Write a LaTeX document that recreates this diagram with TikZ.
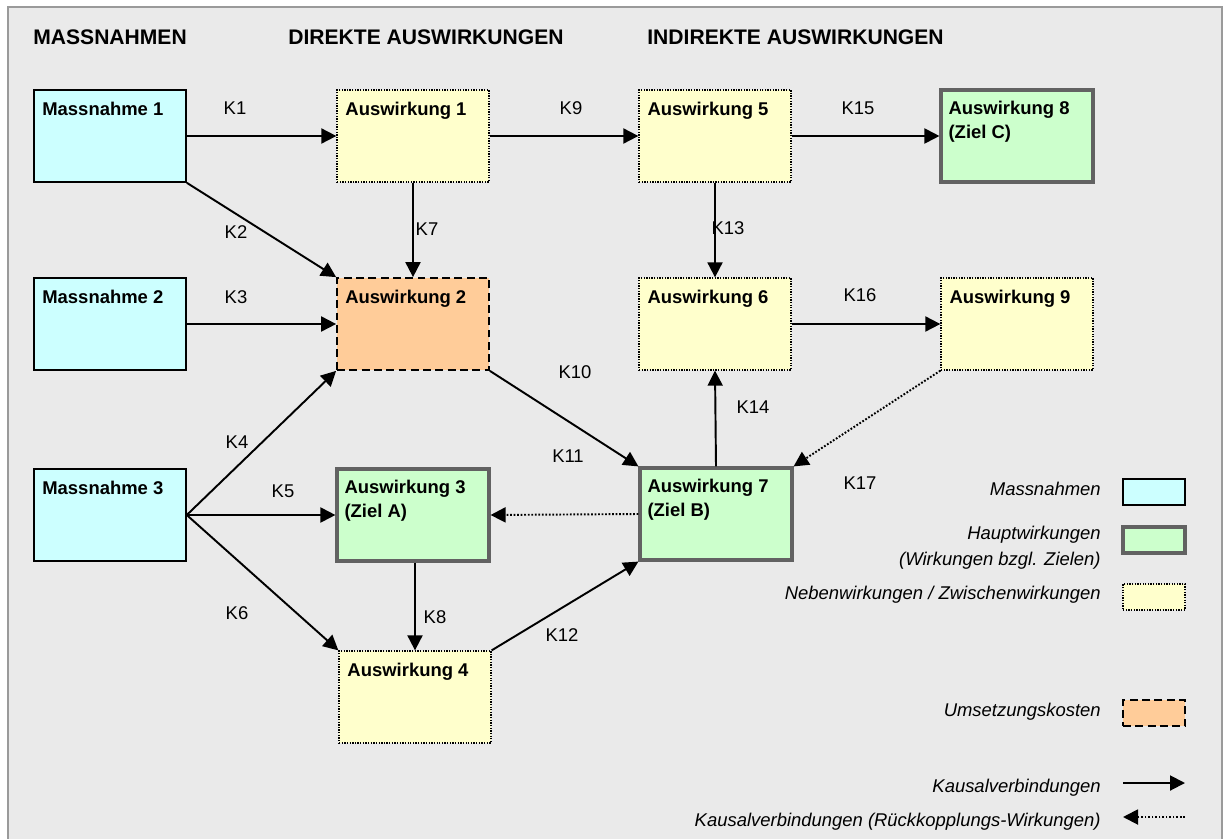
\documentclass[tikz,border=0pt]{standalone}
\usepackage{fontspec}
\setmainfont{Liberation Sans}
\usetikzlibrary{arrows.meta}

\definecolor{massfill}{HTML}{CCFFFF}
\definecolor{hauptfill}{HTML}{CCFFCC}
\definecolor{nebenfill}{HTML}{FFFFCC}
\definecolor{kostenfill}{HTML}{FFCC99}
\definecolor{hauptdraw}{HTML}{626262}
\definecolor{bgfill}{HTML}{EAEAEA}
\definecolor{framedraw}{HTML}{9A9A9A}

\begin{document}
\begin{tikzpicture}[x=0.02cm,y=-0.02cm,
    font=\fontsize{10.5}{13.6}\selectfont,
    box/.style={minimum width=3.04cm,minimum height=1.84cm,inner sep=0pt},
    legbox/.style={minimum width=1.24cm,minimum height=0.52cm},
    massbox/.style={box,draw=black,line width=0.9pt,fill=massfill},
    hauptbox/.style={box,draw=hauptdraw,line width=1.8pt,fill=hauptfill},
    nebenbox/.style={box,draw=black,line width=0.75pt,dash pattern=on 0.75pt off 0.75pt,fill=nebenfill},
    kostenbox/.style={box,draw=black,line width=1pt,dash pattern=on 4.5pt off 2.5pt,fill=kostenfill},
    boxtext/.style={anchor=north west,inner xsep=5pt,inner ysep=7pt,align=left,font=\fontsize{10.5}{13.6}\selectfont\bfseries},
    head/.style={anchor=west,inner sep=0pt,font=\fontsize{12}{14}\selectfont\bfseries},
    legtext/.style={anchor=base east,inner sep=0pt,align=right,font=\fontsize{10.5}{14.7}\selectfont\itshape},
    kausal/.style={-{Triangle[length=0.3cm,width=0.3cm]},line width=1.1pt},
    rueck/.style={kausal,dash pattern=on 1pt off 1pt}]

  \clip (0,0) rectangle (1223,838);
  \fill[white] (0,0) rectangle (1223,838);
  \draw[framedraw,line width=1.2pt,fill=bgfill] (8,7) rectangle (1222,870);

  % Spaltenueberschriften
  \node[head] (hmass) at (33,37) {MASSNAHMEN};
  \node[head] (hdir) at (288,37) {DIREKTE AUSWIRKUNGEN};
  \node[head] (hind) at (647,37) {INDIREKTE AUSWIRKUNGEN};

  % Massnahmen
  \node[massbox] (m1) at (110,136) {};
  \node[massbox] (m2) at (110,324) {};
  \node[massbox] (m3) at (110,515) {};
  % Auswirkungen
  \node[nebenbox] (a1) at (413,136) {};
  \node[kostenbox] (a2) at (413,324) {};
  \node[hauptbox] (a3) at (413,515) {};
  \node[nebenbox] (a4) at (415,697) {};
  \node[nebenbox] (a5) at (715,136) {};
  \node[nebenbox] (a6) at (715,324) {};
  \node[hauptbox] (a7) at (716,514) {};
  \node[hauptbox] (a8) at (1017,136) {};
  \node[nebenbox] (a9) at (1017,324) {};

  \node[boxtext] (m1t) at (m1.north west) {Massnahme 1};
  \node[boxtext] (m2t) at (m2.north west) {Massnahme 2};
  \node[boxtext] (m3t) at (m3.north west) {Massnahme 3};
  \node[boxtext] (a1t) at (a1.north west) {Auswirkung 1};
  \node[boxtext] (a2t) at (a2.north west) {Auswirkung 2};
  \node[boxtext] (a3t) at (a3.north west) {Auswirkung 3\\(Ziel A)};
  \node[boxtext] (a4t) at (a4.north west) {Auswirkung 4};
  \node[boxtext] (a5t) at (a5.north west) {Auswirkung 5};
  \node[boxtext] (a6t) at (a6.north west) {Auswirkung 6};
  \node[boxtext] (a7t) at (a7.north west) {Auswirkung 7\\(Ziel B)};
  \node[boxtext] (a8t) at (a8.north west) {Auswirkung 8\\(Ziel C)};
  \node[boxtext] (a9t) at (a9.north west) {Auswirkung 9};

  % Kausalverbindungen
  \draw[kausal] (m1.east) -- (a1.west);
  \draw[kausal] (m1.south east) -- (a2.north west);
  \draw[kausal] (m2.east) -- (a2.west);
  \draw[kausal] (m3.east) -- (a2.south west);
  \draw[kausal] (m3.east) -- (a3.west);
  \draw[kausal] (m3.east) -- (a4.north west);
  \draw[kausal] (a1.south) -- (a2.north);
  \draw[kausal] (a4.north |- a3.south) -- (a4.north);
  \draw[kausal] (a1.east) -- (a5.west);
  \draw[kausal] (a2.south east) -- (a7.north west);
  \draw[rueck] (a7.west) -- (a3.east);
  \draw[kausal] (a4.north east) -- (a7.south west);
  \draw[kausal] (a5.south) -- (a6.north);
  \draw[kausal] (a7.north) -- (a6.south);
  \draw[kausal] (a5.east) -- (a8.west);
  \draw[kausal] (a6.east) -- (a9.west);
  \draw[rueck] (a9.south west) -- (a7.north east);

  \foreach \k/\px/\py in {1/235/108, 2/236/232, 3/236/297, 4/237/442, 5/283/491,
      6/237/613, 7/427/229, 8/435/617, 9/571/108, 10/575/372, 11/568/456,
      12/562/635, 13/728/228, 14/753/407, 15/858/108, 16/860/295, 17/860/483}
    \node (k\k) at (\px,\py) {K\k};

  % Legende
  \node[massbox,legbox] (lmass) at (1154,492) {};
  \node[hauptbox,legbox] (lhaupt) at (1154,540) {};
  \node[nebenbox,legbox] (lneben) at (1154,597) {};
  \node[kostenbox,legbox] (lkosten) at (1154,713) {};
  \coordinate (lks) at (1123,783);
  \coordinate (lke) at (1185,783);
  \coordinate (lrs) at (1185,817);
  \coordinate (lre) at (1123,817);
  \draw[kausal] (lks) -- (lke);
  \draw[rueck] (lrs) -- (lre);

  \node[legtext] (tmass) at (1101,495) {Massnahmen};
  \node[legtext,anchor=north east] (thaupt) at (1101,526) {Hauptwirkungen\\(Wirkungen bzgl. Zielen)};
  \node[legtext] (tneben) at (1101,599) {Nebenwirkungen / Zwischenwirkungen};
  \node[legtext] (tkosten) at (1101,716) {Umsetzungskosten};
  \node[legtext] (tkausal) at (1101,792) {Kausalverbindungen};
  \node[legtext] (trueck) at (1101,826) {Kausalverbindungen (Rückkopplungs-Wirkungen)};
\end{tikzpicture}
\end{document}
